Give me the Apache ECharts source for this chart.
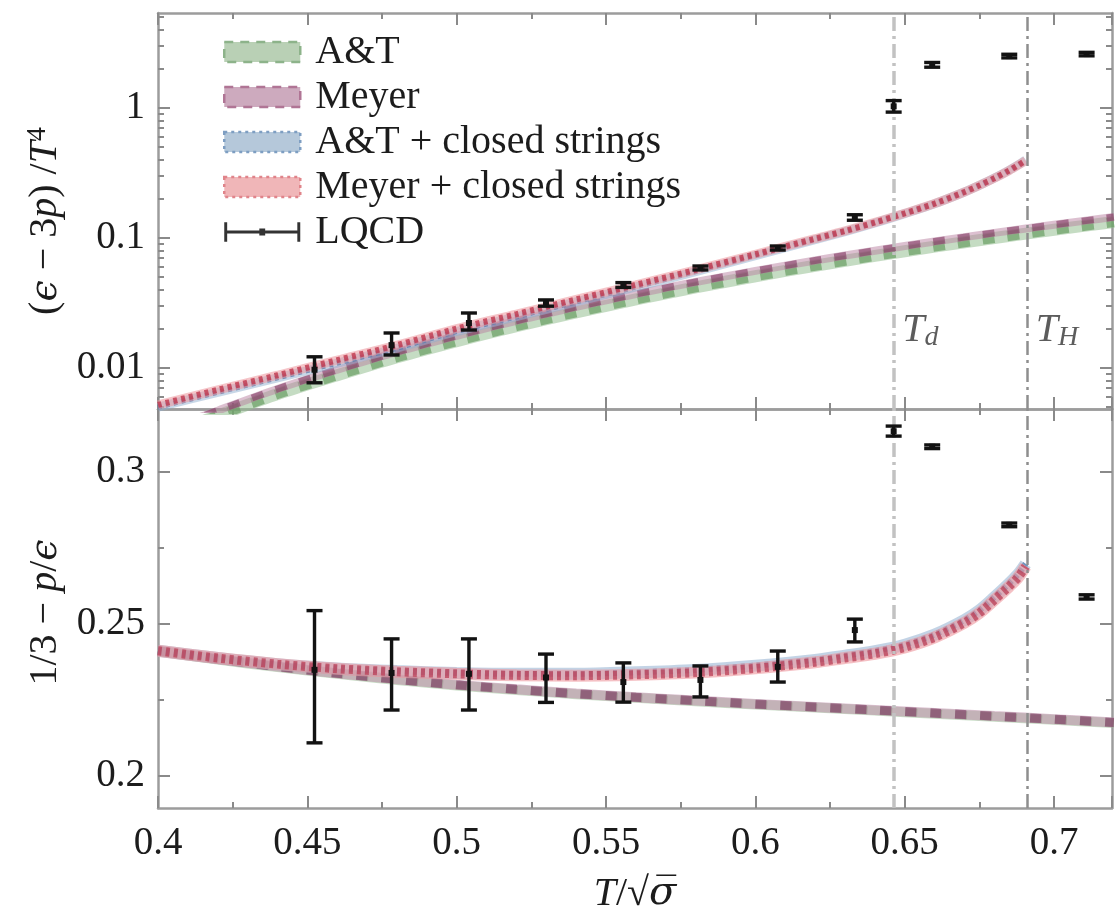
<!DOCTYPE html>
<html>
<head>
<meta charset="utf-8">
<script src="https://cdn.jsdelivr.net/npm/echarts@6/dist/echarts.min.js"></script>
<style>
  html, body { margin: 0; padding: 0; background: #ffffff; }
  #chart { width: 1115px; height: 915px; }
</style>
</head>
<body>
<div id="chart"></div>
<script>
// ---- axis ranges and reference temperatures (T / sqrt(sigma)) ----
const X_MIN = 0.4, X_MAX = 0.7194;
const T_D = 0.6463;   // deconfinement temperature
const T_H = 0.691;    // Hagedorn temperature
const TOP_MIN = 0.00484, TOP_MAX = 5.38;
const BOT_MIN = 0.18947, BOT_MAX = 0.32072;

// ---- tick values ----
const topMajor = [0.01, 0.1, 1];
const topMinor = [0.005, 0.006, 0.007, 0.008, 0.009,
                  0.02, 0.03, 0.04, 0.05, 0.06, 0.07, 0.08, 0.09,
                  0.2, 0.3, 0.4, 0.5, 0.6, 0.7, 0.8, 0.9, 2, 3, 4, 5];
const botMajor = [0.2, 0.25, 0.3];
const botMinor = [0.225, 0.275];

// ---- glueball resonance gas, without closed strings ----
const modelT = [0.40, 0.42, 0.44, 0.46, 0.48, 0.50, 0.52, 0.54, 0.56,
                0.58, 0.60, 0.62, 0.64, 0.66, 0.68, 0.70, 0.72];
const atTrace    = [0.0029, 0.0043, 0.0063, 0.0088, 0.0121, 0.0161, 0.0210, 0.0268, 0.0337,
                    0.0417, 0.0508, 0.0612, 0.0728, 0.0858, 0.1000, 0.1157, 0.1327];
const meyerTrace = [0.0032, 0.0047, 0.0069, 0.0097, 0.0133, 0.0177, 0.0231, 0.0295, 0.0371,
                    0.0459, 0.0559, 0.0672, 0.0799, 0.0940, 0.1095, 0.1265, 0.1450];
const atRatio    = [0.2410, 0.2383, 0.2358, 0.2336, 0.2316, 0.2298, 0.2283, 0.2269, 0.2257,
                    0.2246, 0.2235, 0.2225, 0.2215, 0.2205, 0.2195, 0.2185, 0.2174];
const meyerRatio = [0.2412, 0.2385, 0.2360, 0.2338, 0.2318, 0.2300, 0.2285, 0.2271, 0.2259,
                    0.2248, 0.2237, 0.2227, 0.2217, 0.2207, 0.2197, 0.2187, 0.2176];

// ---- with the closed-string (Hagedorn) spectrum added ----
const stringT = [0.40, 0.42, 0.44, 0.46, 0.48, 0.50, 0.52, 0.54, 0.56, 0.58, 0.60,
                 0.62, 0.63, 0.64, 0.65, 0.66, 0.67, 0.675, 0.68, 0.685, 0.688, 0.6905];
const atStrTrace    = [0.0050, 0.0065, 0.0084, 0.0109, 0.0142, 0.0191, 0.0248, 0.0323, 0.0421, 0.0552, 0.0732,
                       0.0972, 0.1120, 0.1305, 0.1540, 0.1835, 0.2260, 0.2545, 0.2890, 0.3330, 0.3660, 0.3990];
const meyerStrTrace = [0.0052, 0.0068, 0.0088, 0.0115, 0.0150, 0.0201, 0.0260, 0.0337, 0.0437, 0.0569, 0.0750,
                       0.0989, 0.1135, 0.1318, 0.1550, 0.1840, 0.2260, 0.2540, 0.2880, 0.3310, 0.3630, 0.3940];
const atStrRatio    = [0.2412, 0.2388, 0.2368, 0.2354, 0.2345, 0.2339, 0.2336, 0.2336, 0.2341, 0.2349, 0.2363,
                       0.2382, 0.2396, 0.2411, 0.2432, 0.2465, 0.2513, 0.2545, 0.2588, 0.2634, 0.2664, 0.2698];
const meyerStrRatio = [0.2412, 0.2388, 0.2368, 0.2353, 0.2343, 0.2336, 0.2331, 0.2330, 0.2333, 0.2340, 0.2354,
                       0.2374, 0.2388, 0.2402, 0.2423, 0.2456, 0.2504, 0.2536, 0.2579, 0.2624, 0.2654, 0.2690];

// ---- lattice SU(3) data ----
const lqcdT = [0.4524, 0.4782, 0.5041, 0.5299, 0.5558, 0.5816, 0.6075, 0.6333, 0.6463, 0.6592, 0.6850, 0.7109];
const lqcdTrace   = [0.0097, 0.0150, 0.0222, 0.0316, 0.0435, 0.0588, 0.0838, 0.1440, 1.030, 2.150, 2.510, 2.600];
const lqcdTraceLo = [0.0077, 0.0126, 0.0196, 0.0299, 0.0417, 0.0568, 0.0808, 0.1370, 0.930, 2.060, 2.430, 2.520];
const lqcdTraceHi = [0.0122, 0.0186, 0.0265, 0.0334, 0.0454, 0.0609, 0.0868, 0.1510, 1.140, 2.240, 2.590, 2.680];
const lqcdRatio   = [0.2349, 0.2339, 0.2336, 0.2324, 0.2309, 0.2316, 0.2359, 0.2480, 0.3134, 0.3083, 0.2826, 0.2589];
const lqcdRatioLo = [0.2109, 0.2217, 0.2217, 0.2242, 0.2243, 0.2260, 0.2309, 0.2441, 0.3118, 0.3077, 0.2820, 0.2582];
const lqcdRatioHi = [0.2544, 0.2451, 0.2451, 0.2401, 0.2372, 0.2362, 0.2411, 0.2516, 0.3151, 0.3089, 0.2832, 0.2596];

// ---- styling ----
const SERIF = "'Liberation Serif', 'DejaVu Serif', serif";
const INK = '#1c1c1c';
const FRAME = { show: true, onZero: false, lineStyle: { color: '#9c9c9c', width: 2.5 } };
const TICK_COLOR = '#8a8a8a';
const majorTick = (values) => ({ show: true, inside: true, length: 12, customValues: values,
                                 lineStyle: { color: TICK_COLOR, width: 2 } });
const minorTick = (values) => ({ show: true, inside: true, length: 6, customValues: values,
                                 lineStyle: { color: TICK_COLOR, width: 2 } });

// band look per model and panel: a translucent body with a dashed / dotted stroke on top
const bandStyles = {
  top: {
    'A&T':                    { fill: 'rgba(150,192,145,0.55)', fillW: 12, dash: 'rgba(105,158,100,0.70)', dashW: 10, type: [12, 13] },
    'Meyer':                  { fill: 'rgba(185,130,162,0.50)', fillW: 8,  dash: 'rgba(135,65,105,0.65)',  dashW: 7,  type: [12, 13] },
    'A&T + closed strings':   { fill: 'rgba(145,175,208,0.50)', fillW: 9,  dash: 'rgba(85,125,175,0.80)',  dashW: 5,  type: [4, 4] },
    'Meyer + closed strings': { fill: 'rgba(236,150,156,0.55)', fillW: 9,  dash: 'rgba(192,55,78,0.80)',   dashW: 6,  type: [4, 4] }
  },
  bottom: {
    'A&T':                    { fill: 'rgba(150,192,145,0.50)', fillW: 10, dash: 'rgba(105,158,100,0.60)', dashW: 8,  type: [12, 13] },
    'Meyer':                  { fill: 'rgba(190,140,170,0.55)', fillW: 10, dash: 'rgba(130,65,105,0.65)',  dashW: 9,  type: [11, 14] },
    'A&T + closed strings':   { fill: 'rgba(145,175,208,0.55)', fillW: 12, dash: 'rgba(85,125,175,0.75)',  dashW: 6,  type: [4, 4] },
    'Meyer + closed strings': { fill: 'rgba(236,150,156,0.60)', fillW: 12, dash: 'rgba(185,55,80,0.70)',   dashW: 9,  type: [4, 4] }
  }
};

// ---- axes ----
function xAxisDef(gridIndex, position, labels) {
  return {
    type: 'value', gridIndex, position, min: X_MIN, max: X_MAX, interval: 0.05,
    axisLine: FRAME,
    axisTick: { show: true, inside: true, length: 12, lineStyle: { color: TICK_COLOR, width: 2 } },
    minorTick: { show: true, splitNumber: 2, length: 6, lineStyle: { color: TICK_COLOR, width: 2 } },
    splitLine: { show: false }, minorSplitLine: { show: false },
    axisLabel: labels ? { show: true, margin: 16, showMaxLabel: false, color: INK,
                          fontFamily: SERIF, fontSize: 39,
                          formatter: v => String(+v.toFixed(3)) } : { show: false },
    name: labels ? '{i|T}{p|/√}{o|σ\u0305}' : '',
    nameLocation: 'middle', nameGap: 66,
    nameTextStyle: { color: INK, fontFamily: SERIF, fontSize: 40,
      rich: { i: { fontStyle: 'italic', fontSize: 40, fontFamily: SERIF, color: INK },
              p: { fontSize: 40, fontFamily: SERIF, color: INK },
              o: { fontStyle: 'italic', fontSize: 40, fontFamily: "'DejaVu Serif', serif", color: INK } } }
  };
}

function yAxisDef(gridIndex, position, type, min, max, major, minor, opts) {
  const base = {
    type, gridIndex, position, min, max,
    splitLine: { show: false }, minorTick: { show: false },
    axisLabel: { show: false }
  };
  if (type === 'log') base.logBase = 10;
  if (opts.minorOnly) {
    base.axisLine = { show: false, onZero: false };
    base.axisTick = minorTick(minor);
  } else {
    base.axisLine = FRAME;
    base.axisTick = majorTick(major);
  }
  if (opts.labels) {
    base.axisLabel = { show: true, customValues: major, margin: 13, color: INK,
                       fontFamily: SERIF, fontSize: 39,
                       formatter: v => String(+(+v).toPrecision(3)) };
    base.name = opts.name;
    base.nameLocation = 'middle';
    base.nameRotate = 90;
    base.nameGap = opts.nameGap;
    base.nameTextStyle = {
      color: INK, fontFamily: SERIF, fontSize: 40, padding: opts.namePad,
      rich: {
        p: { fontSize: 40, lineHeight: 44, fontFamily: SERIF, color: INK },
        i: { fontSize: 40, lineHeight: 44, fontStyle: 'italic', fontFamily: SERIF, color: INK },
        e: { fontSize: 38, lineHeight: 44, fontStyle: 'italic', fontFamily: "'DejaVu Serif', serif", color: INK },
        sup: { fontSize: 28, lineHeight: 28, verticalAlign: 'top', fontFamily: SERIF, color: INK }
      }
    };
  }
  return base;
}

// x: [0] upper panel bottom, [1] upper panel top, [2] lower panel bottom, [3] lower panel top
const xAxes = [
  xAxisDef(0, 'bottom', false),
  xAxisDef(0, 'top', false),
  xAxisDef(1, 'bottom', true),
  xAxisDef(1, 'top', false)
];

// y: [0-3] upper panel (log), [4-7] lower panel
const yAxes = [
  yAxisDef(0, 'left', 'log', TOP_MIN, TOP_MAX, topMajor, topMinor,
           { labels: true, name: '{p|(}{e|ϵ}{p| − 3}{i|p}{p|) /}{i|T}{sup|4}', nameGap: 88, namePad: [0, 20, 0, 0] }),
  yAxisDef(0, 'left', 'log', TOP_MIN, TOP_MAX, topMajor, topMinor, { minorOnly: true }),
  yAxisDef(0, 'right', 'log', TOP_MIN, TOP_MAX, topMajor, topMinor, {}),
  yAxisDef(0, 'right', 'log', TOP_MIN, TOP_MAX, topMajor, topMinor, { minorOnly: true }),
  yAxisDef(1, 'left', 'value', BOT_MIN, BOT_MAX, botMajor, botMinor,
           { labels: true, name: '{p|1/3 − }{i|p}{p|/}{e|ϵ}', nameGap: 88, namePad: [0, 8, 0, 0] }),
  yAxisDef(1, 'left', 'value', BOT_MIN, BOT_MAX, botMajor, botMinor, { minorOnly: true }),
  yAxisDef(1, 'right', 'value', BOT_MIN, BOT_MAX, botMajor, botMinor, {}),
  yAxisDef(1, 'right', 'value', BOT_MIN, BOT_MAX, botMajor, botMinor, { minorOnly: true })
];

// ---- series helpers ----
function band(panel, name, xs, ys, xIdx, yIdx) {
  const st = bandStyles[panel][name];
  const data = xs.map((x, i) => [x, ys[i]]);
  const common = { type: 'line', name, xAxisIndex: xIdx, yAxisIndex: yIdx, data,
                   symbol: 'none', showSymbol: false, smooth: 0.3, silent: true, clip: true };
  return [
    Object.assign({}, common, { lineStyle: { color: st.fill, width: st.fillW, cap: 'butt' } }),
    Object.assign({}, common, { lineStyle: { color: st.dash, width: st.dashW, type: st.type, cap: 'butt' } })
  ];
}

function renderErrorBar(params, api) {
  const x = api.value(0);
  const c = api.coord([x, api.value(1)]);
  const lo = api.coord([x, api.value(2)]);
  const hi = api.coord([x, api.value(3)]);
  const cap = 8;
  const st = { stroke: '#121212', lineWidth: 3.4 };
  return {
    type: 'group',
    children: [
      { type: 'line', shape: { x1: lo[0], y1: lo[1], x2: hi[0], y2: hi[1] }, style: st },
      { type: 'line', shape: { x1: lo[0] - cap, y1: lo[1], x2: lo[0] + cap, y2: lo[1] }, style: st },
      { type: 'line', shape: { x1: hi[0] - cap, y1: hi[1], x2: hi[0] + cap, y2: hi[1] }, style: st },
      { type: 'rect', shape: { x: c[0] - 3, y: c[1] - 3, width: 6, height: 6 }, style: { fill: '#121212' } }
    ]
  };
}

function lqcd(vals, lo, hi, xIdx, yIdx) {
  return {
    type: 'custom', name: 'LQCD', xAxisIndex: xIdx, yAxisIndex: yIdx,
    renderItem: renderErrorBar, silent: true, z: 5,
    dimensions: ['T', 'v', 'lo', 'hi'],
    encode: { x: 0, y: [1, 2, 3] },
    data: lqcdT.map((t, i) => [t, vals[i], lo[i], hi[i]])
  };
}

function tempLines(xIdx, yIdx) {
  return {
    type: 'line', xAxisIndex: xIdx, yAxisIndex: yIdx, data: [], silent: true, z: 1,
    markLine: {
      silent: true, symbol: ['none', 'none'], label: { show: false }, animation: false, precision: 6,
      data: [
        { xAxis: T_D, lineStyle: { color: '#c2c2c2', width: 3.5, type: [14, 5, 3, 5] } },
        { xAxis: T_H, lineStyle: { color: '#8e8e8e', width: 2.5, type: [14, 5, 3, 5] } }
      ]
    }
  };
}

const series = [
  tempLines(0, 0),
  ...band('top', 'A&T', modelT, atTrace, 0, 0),
  ...band('top', 'Meyer', modelT, meyerTrace, 0, 0),
  ...band('top', 'A&T + closed strings', stringT, atStrTrace, 0, 0),
  ...band('top', 'Meyer + closed strings', stringT, meyerStrTrace, 0, 0),
  lqcd(lqcdTrace, lqcdTraceLo, lqcdTraceHi, 0, 0),
  {
    type: 'scatter', xAxisIndex: 0, yAxisIndex: 0, silent: true, z: 6,
    symbolSize: 1, itemStyle: { color: 'rgba(0,0,0,0)' },
    data: [{ value: [T_D, 0.0196], name: 'd' }, { value: [T_H, 0.0196], name: 'H' }],
    label: {
      show: true, position: 'right', distance: 8,
      formatter: p => '{t|T}{s|' + p.name + '}',
      rich: {
        t: { fontFamily: SERIF, fontStyle: 'italic', fontSize: 40, lineHeight: 44, color: '#333' },
        s: { fontFamily: SERIF, fontStyle: 'italic', fontSize: 28, lineHeight: 28, verticalAlign: 'bottom', color: '#333' }
      }
    }
  },
  tempLines(2, 4),
  ...band('bottom', 'A&T', modelT, atRatio, 2, 4),
  ...band('bottom', 'Meyer', modelT, meyerRatio, 2, 4),
  ...band('bottom', 'A&T + closed strings', stringT, atStrRatio, 2, 4),
  ...band('bottom', 'Meyer + closed strings', stringT, meyerStrRatio, 2, 4),
  lqcd(lqcdRatio, lqcdRatioLo, lqcdRatioHi, 2, 4)
];

const option = {
  animation: false,
  backgroundColor: '#ffffff',
  grid: [
    { left: 158, right: 3, top: 13, height: 396 },
    { left: 158, right: 3, top: 409, height: 399 }
  ],
  xAxis: xAxes,
  yAxis: yAxes,
  legend: {
    left: 223, top: 32, orient: 'vertical', padding: 0,
    itemWidth: 76, itemHeight: 20, itemGap: 5, selectedMode: false,
    formatter: '{a|{name}}',
    textStyle: { color: INK, fontFamily: SERIF, fontSize: 40, lineHeight: 40,
                 rich: { a: { fontFamily: SERIF, fontSize: 40, lineHeight: 40, color: INK, padding: [0, 0, 0, 10] } } },
    data: [
      { name: 'A&T', icon: 'rect',
        itemStyle: { color: '#b9d0b5', borderColor: '#8db38a', borderWidth: 2.5, borderType: [9, 7] } },
      { name: 'Meyer', icon: 'rect',
        itemStyle: { color: '#cdaabe', borderColor: '#b07595', borderWidth: 2.5, borderType: [9, 7] } },
      { name: 'A&T + closed strings', icon: 'rect',
        itemStyle: { color: '#b5c8da', borderColor: '#7e9ec2', borderWidth: 2.5, borderType: [3, 4] } },
      { name: 'Meyer + closed strings', icon: 'rect',
        itemStyle: { color: '#f0b6b8', borderColor: '#e0848a', borderWidth: 2.5, borderType: [3, 4] } },
      { name: 'LQCD',
        icon: 'path://M0,0H3V20H0Z M3,8.5H75V11.5H3Z M75,0H78V20H75Z M36,6.5H42V13.5H36Z',
        itemStyle: { color: '#333333', borderWidth: 0 } }
    ]
  },
  series
};

const chart = echarts.init(document.getElementById('chart'), null, { renderer: 'canvas' });
chart.setOption(option);
</script>
</body>
</html>
